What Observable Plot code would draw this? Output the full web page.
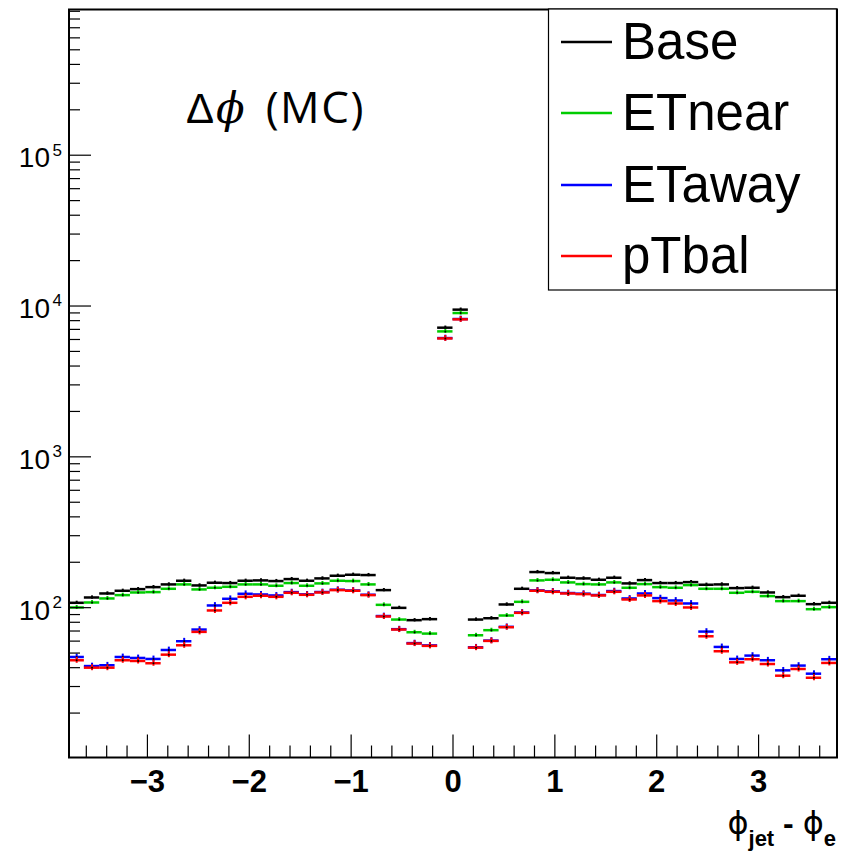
<!DOCTYPE html>
<html><head><meta charset="utf-8">
<script src="https://cdn.jsdelivr.net/npm/d3@7"></script>
<script src="https://cdn.jsdelivr.net/npm/@observablehq/plot@0.6"></script>
<style>html,body{margin:0;padding:0;background:#fff;}#chart{width:847px;height:857px;}</style>
</head><body><div id="chart"></div>
<script>
// ---- data (50 bins of phi_jet - phi_e over [-1.2pi, 1.2pi]) ----
const nBins = 50;
const xMin = -1.2 * Math.PI, xMax = 1.2 * Math.PI;
const base   = [107.7,116.8,124.2,129.4,132.7,136.8,142.6,150.8,140.4,146.3,145.6,150.8,151.6,150.1,154.7,150.8,156.3,162.8,165.3,164.5,130.7,99.7,82.6,83.9,7185,9463,83.4,85.1,105.0,133.4,172.2,169.6,157.9,156.3,153.1,157.9,144.8,152.3,145.6,145.6,147.7,141.9,142.6,134.8,135.5,126.1,117.4,119.9,105.5,107.7];
const etNear = [100.3,108.2,115.1,121.1,126.1,126.8,133.4,142.6,132.1,135.5,137.5,142.6,142.6,139.7,145.6,139.7,144.8,150.8,150.1,142.6,104.4,83.4,68.7,67.3,6788,8985,65.6,70.9,88.7,109.3,151.6,153.1,147.0,143.3,142.6,147.0,135.5,143.3,136.8,135.5,141.1,133.4,133.4,125.5,127.4,119.3,110.5,110.5,97.7,100.8];
const etAway = [47.1,41.0,41.5,47.1,46.4,45.7,52.4,59.9,71.6,103.4,114.5,123.6,122.3,120.5,126.8,122.5,127.0,131.5,130.0,121.8,88.0,72.0,58.2,56.2,6130,8200,54.6,60.5,74.6,92.9,130.2,128.2,125.0,123.8,121.3,128.8,115.1,124.2,115.7,111.6,106.6,69.4,54.9,45.7,48.1,44.8,38.4,41.3,36.5,45.5];
const ptBal  = [44.8,40.0,40.0,44.8,44.3,42.8,48.8,56.3,69.1,95.8,107.7,118.0,119.9,118.0,125.5,121.7,126.1,130.7,129.4,121.1,87.4,71.6,57.8,55.8,6098,8157,54.3,60.2,74.2,92.4,129.4,127.4,124.2,123.0,120.5,127.4,113.3,120.5,110.5,106.6,100.3,64.6,51.4,43.4,45.5,42.3,35.4,39.2,34.3,43.0];
const seriesNames  = ["Base", "ETnear", "ETaway", "pTbal"];
const seriesColors = ["#000000", "#00cc00", "#0000ff", "#ff0000"];
const errFrac = [0.025, 0.03, 0.045, 0.045];
const seriesValues = [base, etNear, etAway, ptBal];

const yMin = 10.15, yMax = 9.25e5;
const yMajor = [1e2, 1e3, 1e4, 1e5];
const yExpLabels = ["2", "3", "4", "5"];
const yMinor = [];
for (let e = 1; e <= 5; e++) for (let m = 2; m <= 9; m++) { const v = m * 10 ** e; if (v <= yMax) yMinor.push(v); }
const xMajor = [-3, -2, -1, 0, 1, 2, 3];
const xLabels = ["\u22123", "\u22122", "\u22121", "0", "1", "2", "3"];
const xMinor = d3.range(-18, 19).map(k => k / 5).filter(v => Math.abs(v - Math.round(v)) > 1e-9);

const binW = (xMax - xMin) / nBins;
const marks = [];
seriesValues.forEach((vals, k) => {
  const rows = vals.map((v, i) => ({lo: xMin + i * binW, hi: xMin + (i + 1) * binW, c: xMin + (i + 0.5) * binW, v, e: errFrac[k]}));
  marks.push(Plot.ruleY(rows, {x1: "lo", x2: "hi", y: "v", stroke: seriesColors[k], strokeWidth: 2.5}));
  marks.push(Plot.ruleX(rows, {x: "c", y1: d => d.v * (1 - d.e), y2: d => d.v * (1 + d.e), stroke: seriesColors[k], strokeWidth: 2}));
  marks.push(Plot.dot(rows, {x: "c", y: "v", r: 1, fill: "#000", stroke: null}));
});

const narrowBold = "'Liberation Sans Narrow', 'Liberation Sans', Arial, sans-serif";
const plot = Plot.plot({
  width: 847, height: 857,
  marginLeft: 68.5, marginRight: 10.5, marginTop: 9, marginBottom: 100,
  style: {background: "white", overflow: "visible"},
  x: {domain: [xMin, xMax], axis: null},
  y: {type: "log", domain: [yMin, yMax], axis: null},
  marks: [
    ...marks,
    Plot.axisY({anchor: "left", ticks: yMinor, tickSize: -11.5, tickFormat: () => "", label: null, strokeWidth: 1.2}),
    Plot.axisY({anchor: "left", ticks: yMajor, tickSize: -22.5, tickFormat: () => "", label: null, strokeWidth: 1.2}),
    Plot.axisX({anchor: "bottom", ticks: xMinor, tickSize: -11.5, tickFormat: () => "", label: null, strokeWidth: 1.2}),
    Plot.axisX({anchor: "bottom", ticks: xMajor, tickSize: -22.5, tickFormat: () => "", label: null, strokeWidth: 1.2}),
    Plot.text(yMajor, {x: () => xMin, y: d => d, text: () => "10", textAnchor: "end", dx: -19, dy: 3, fontSize: 28, fill: "#000"}),
    Plot.text(yMajor, {x: () => xMin, y: d => d, text: (d, i) => yExpLabels[i], textAnchor: "start", dx: -16.5, dy: -5, fontSize: 17, fill: "#000"}),
    Plot.text(xMajor, {x: d => d, y: () => yMin, text: (d, i) => xLabels[i], dy: 25, fontSize: 31, fontWeight: "bold", fill: "#000", fontFamily: narrowBold}),
    Plot.frame({stroke: "#000", strokeWidth: 2})
  ]
});
plot.style.fontFamily = "'Liberation Sans', Arial, Helvetica, sans-serif";
document.getElementById("chart").appendChild(plot);

// ---- annotations ----
const svg = d3.select(plot);
// axis title
const t = svg.append("text").attr("x", 836).attr("y", 834).attr("text-anchor", "end")
  .attr("font-family", narrowBold).attr("font-weight", "bold").attr("font-size", 32).attr("fill", "#000");
t.append("tspan").attr("font-family", "'DejaVu Sans', sans-serif").attr("font-weight", "normal").text("\u03d5");
t.append("tspan").attr("font-size", 22).attr("dy", 12).text("jet");
t.append("tspan").attr("dy", -12).text(" - ");
t.append("tspan").attr("font-family", "'DejaVu Sans', sans-serif").attr("font-weight", "normal").text("\u03d5");
t.append("tspan").attr("font-size", 22).attr("dy", 12).text("e");

// Δϕ (MC)
const a = svg.append("text").attr("x", 186).attr("y", 123).attr("text-anchor", "start").attr("font-size", 42).attr("fill", "#000")
  .attr("font-family", "'Liberation Sans', Arial, sans-serif");
a.append("tspan").text("\u0394");
a.append("tspan").attr("font-family", "'DejaVu Serif', 'DejaVu Sans', serif").attr("font-style", "italic").attr("dx", 2).text("\u03d5");
a.append("tspan").attr("font-family", "'Open Sans', 'Liberation Sans', sans-serif").attr("font-size", 44).attr("dx", 8).attr("letter-spacing", 1.5).text(" (MC)");

// legend
const lg = svg.append("g");
lg.append("rect").attr("x", 548.5).attr("y", 9).attr("width", 288).attr("height", 281)
  .attr("fill", "#fff").attr("stroke", "#000").attr("stroke-width", 1.2);
const ly = [42, 113, 185, 256];
seriesNames.forEach((n, k) => {
  lg.append("line").attr("x1", 561).attr("x2", 612).attr("y1", ly[k]).attr("y2", ly[k])
    .attr("stroke", seriesColors[k]).attr("stroke-width", 2.5);
  lg.append("text").attr("x", 622).attr("y", ly[k] + 17).attr("text-anchor", "start").attr("font-size", 51).attr("fill", "#000")
    .attr("font-family", "'Liberation Sans', Arial, sans-serif").text(n);
});
</script>
</body></html>
